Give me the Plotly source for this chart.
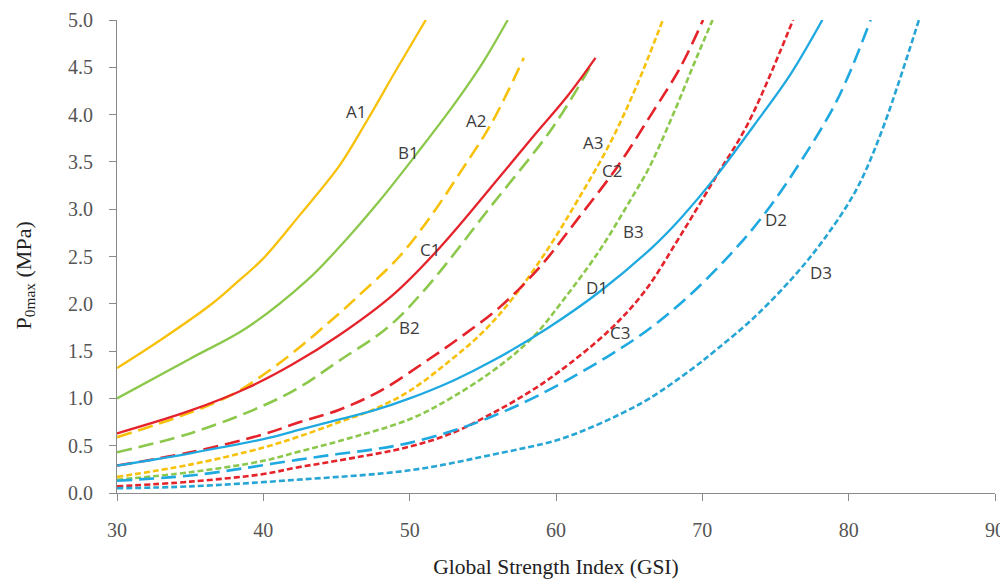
import plotly.graph_objects as go

# ---- data (GSI vs P0max, MPa) ----
A1_x = [30, 33, 36.4, 38, 40, 42.5, 45.2, 47.1, 49, 51.1]
A1_y = [1.32, 1.62, 1.99, 2.2, 2.48, 2.94, 3.46, 3.94, 4.45, 5.0]
B1_x = [30, 35, 38.9, 43, 45.2, 48, 50.5, 53, 55, 56.7]
B1_y = [1.0, 1.42, 1.75, 2.25, 2.6, 3.1, 3.59, 4.1, 4.55, 5.0]
C1_x = [30, 35, 38.9, 42, 45.2, 48.9, 52.1, 56.2, 58.5, 60.8, 62.7]
C1_y = [0.63, 0.87, 1.11, 1.36, 1.67, 2.1, 2.6, 3.35, 3.78, 4.2, 4.6]
D1_x = [30, 35, 40, 42.5, 45, 47.5, 50, 53, 55.7, 59.5, 63, 66.6, 68.5, 71, 73.5, 76, 78.2]
D1_y = [0.29, 0.42, 0.57, 0.67, 0.77, 0.87, 1.0, 1.19, 1.4, 1.75, 2.13, 2.6, 2.9, 3.36, 3.88, 4.42, 5.0]

A2_x = [30, 35, 38, 40, 42, 45.2, 46.4, 49.3, 51.6, 53.5, 55.6, 57.8]
A2_y = [0.59, 0.85, 1.05, 1.25, 1.48, 1.9, 2.07, 2.5, 2.96, 3.4, 3.91, 4.6]
B2_x = [30, 35, 39.8, 42.5, 45.2, 48.5, 51.2, 55.5, 59.8, 62.5]
B2_y = [0.43, 0.63, 0.91, 1.12, 1.4, 1.75, 2.18, 3.02, 3.87, 4.55]
C2_x = [30, 35, 40, 42.5, 45.2, 48, 50.9, 53.5, 56.2, 58.9, 61.5, 64.2, 66.5, 68.5, 70.05]
C2_y = [0.29, 0.43, 0.62, 0.75, 0.88, 1.08, 1.37, 1.65, 1.97, 2.39, 2.9, 3.45, 4.0, 4.5, 5.0]
D2_x = [30, 34, 36.4, 38.6, 42.3, 45, 47.5, 50, 53, 55.5, 58.9, 63.5, 66.5, 69.2, 71.9, 74, 76.2, 79.2, 81.5]
D2_y = [0.13, 0.17, 0.21, 0.26, 0.35, 0.41, 0.46, 0.53, 0.66, 0.8, 1.04, 1.44, 1.75, 2.1, 2.52, 2.9, 3.38, 4.15, 5.0]

A3_x = [30, 35, 40, 42.5, 45.2, 47.5, 50, 52.6, 55, 57.1, 59.4, 61.5, 63.7, 65.5, 67.3]
A3_y = [0.17, 0.3, 0.48, 0.6, 0.75, 0.88, 1.08, 1.38, 1.7, 2.07, 2.57, 3.1, 3.7, 4.3, 5.0]
B3_x = [30, 35, 40, 42.5, 45.2, 50, 53, 56.2, 58.5, 60.5, 63, 65.1, 66.4, 68, 69.6, 70.7]
B3_y = [0.14, 0.22, 0.34, 0.44, 0.55, 0.78, 1.02, 1.35, 1.66, 2.04, 2.57, 3.1, 3.45, 4.0, 4.6, 5.0]
C3_x = [30, 35, 40, 42.3, 45, 50, 53, 55.5, 58, 60.1, 63.5, 66, 68.5, 71, 73.1, 76.2]
C3_y = [0.07, 0.12, 0.2, 0.27, 0.34, 0.49, 0.64, 0.83, 1.05, 1.27, 1.7, 2.12, 2.72, 3.36, 3.9, 5.0]
D3_x = [30, 35, 42.3, 50, 55.8, 60.1, 62.5, 64.6, 66.4, 69.2, 71, 73.5, 76.2, 78.3, 80.5, 82.2, 84.8]
D3_y = [0.05, 0.07, 0.14, 0.24, 0.41, 0.56, 0.7, 0.85, 1.0, 1.3, 1.52, 1.85, 2.28, 2.68, 3.2, 3.8, 5.0]

label_names = ["A1", "B1", "A2", "A3", "C2", "C1", "B3", "D1", "B2", "C3", "D2", "D3"]
label_x = [46.3, 49.9, 54.5, 62.5, 63.8, 51.4, 65.3, 62.8, 50.0, 64.4, 75.0, 78.1]
label_y = [4.03, 3.60, 3.94, 3.70, 3.41, 2.57, 2.76, 2.17, 1.75, 1.70, 2.89, 2.33]

x_ticks = [30, 40, 50, 60, 70, 80, 90]
y_ticks = [0.0, 0.5, 1.0, 1.5, 2.0, 2.5, 3.0, 3.5, 4.0, 4.5, 5.0]

# ---- styles ----
YEL, GRN, RED, BLU = "#F7C10A", "#8CC84B", "#E5232B", "#1EA9E0"
SOLID, LONG, SHORT = "solid", "15px,7px", "6px,3px"

series = [
    ("A3", A3_x, A3_y, YEL, SHORT), ("B3", B3_x, B3_y, GRN, SHORT),
    ("C3", C3_x, C3_y, RED, SHORT), ("D3", D3_x, D3_y, "#27A6D6", SHORT),
    ("A2", A2_x, A2_y, YEL, LONG), ("B2", B2_x, B2_y, GRN, LONG),
    ("D2", D2_x, D2_y, BLU, LONG), ("C2", C2_x, C2_y, RED, LONG),
    ("A1", A1_x, A1_y, YEL, SOLID), ("B1", B1_x, B1_y, GRN, SOLID),
    ("D1", D1_x, D1_y, BLU, SOLID), ("C1", C1_x, C1_y, RED, SOLID),
]

fig = go.Figure()
for name, xs, ys, col, dash in series:
    fig.add_trace(go.Scatter(
        x=xs, y=ys, mode="lines", name=name,
        line=dict(color=col, dash=dash, width=2.3 if dash == SOLID else 2.6,
                  shape="spline", smoothing=1.0),
        showlegend=False, hoverinfo="skip"))

for t, lx, ly in zip(label_names, label_x, label_y):
    fig.add_annotation(x=lx, y=ly, text=t, showarrow=False,
                       font=dict(family="Open Sans", size=17, color="#3c3c3c"))

# y-axis title as annotation (rotated)
fig.add_annotation(xref="paper", yref="paper", x=0, y=0.46, xshift=-108,
                   text="P<sub>0max</sub> (MPa)", textangle=-90, showarrow=False,
                   font=dict(family="Liberation Serif", size=22, color="#222222"))

axis_common = dict(showline=True, linecolor="#8A8A8A", linewidth=1.2,
                   ticks="outside", ticklen=7, tickcolor="#8A8A8A",
                   showgrid=False, zeroline=False, automargin=False,
                   tickfont=dict(family="Liberation Serif", size=20, color="#555555"))

fig.update_xaxes(range=[30, 90], tickvals=x_ticks, ticklabelstandoff=12,
                 title=dict(text="Global Strength Index (GSI)", standoff=18,
                            font=dict(family="Liberation Serif", size=21.5, color="#222222")),
                 **axis_common)
fig.update_yaxes(range=[0, 5.0], tickvals=y_ticks, tickformat=".1f",
                 ticklabelstandoff=12, **axis_common)

# page body adds an 8px offset; margins compensate so the plot area sits at 117..995 x 20..493
fig.update_layout(width=1008, height=583, paper_bgcolor="white", plot_bgcolor="white",
                  margin=dict(l=109, r=21, t=12, b=98))

fig.write_html("out.html")
